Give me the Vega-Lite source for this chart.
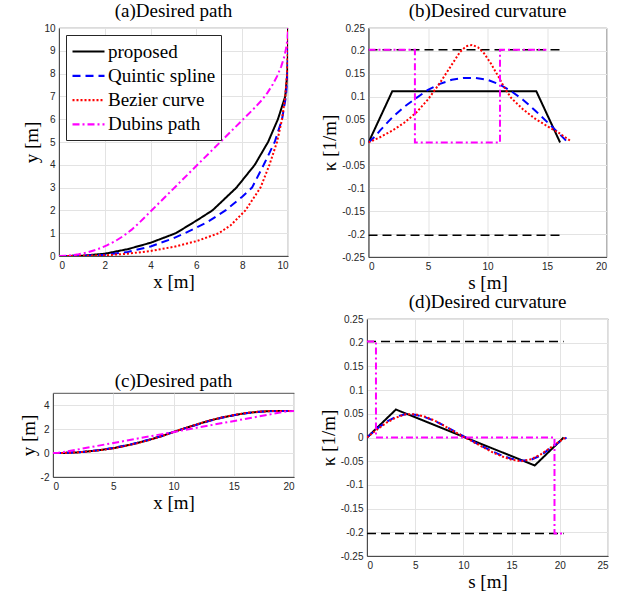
{
  "$schema": "https://vega.github.io/schema/vega-lite/v6.json",
  "background": "white",
  "padding": {"left": 18, "top": 1, "right": 5, "bottom": 0},
  "bounds": "full",
  "spacing": 23,
  "resolve": {"scale": {"color": "independent", "strokeDash": "independent", "x": "independent", "y": "independent"}, "legend": {"color": "independent", "strokeDash": "independent"}},
  "datasets": {
    "a": [
      {"m": "proposed", "x": 0, "y": 0}, {"m": "proposed", "x": 1, "y": 0.01}, {"m": "proposed", "x": 2, "y": 0.1}, {"m": "proposed", "x": 3, "y": 0.3}, {"m": "proposed", "x": 4, "y": 0.58}, {"m": "proposed", "x": 5.1, "y": 1}, {"m": "proposed", "x": 6, "y": 1.55}, {"m": "proposed", "x": 6.7, "y": 2}, {"m": "proposed", "x": 7.75, "y": 3}, {"m": "proposed", "x": 8.55, "y": 4}, {"m": "proposed", "x": 9.13, "y": 5}, {"m": "proposed", "x": 9.56, "y": 6}, {"m": "proposed", "x": 9.88, "y": 7}, {"m": "proposed", "x": 9.97, "y": 8}, {"m": "proposed", "x": 10, "y": 9}, {"m": "proposed", "x": 10, "y": 10},
      {"m": "Quintic spline", "x": 0, "y": 0}, {"m": "Quintic spline", "x": 1, "y": 0.01}, {"m": "Quintic spline", "x": 2, "y": 0.05}, {"m": "Quintic spline", "x": 3, "y": 0.18}, {"m": "Quintic spline", "x": 4, "y": 0.42}, {"m": "Quintic spline", "x": 5, "y": 0.78}, {"m": "Quintic spline", "x": 5.5, "y": 1}, {"m": "Quintic spline", "x": 6.5, "y": 1.5}, {"m": "Quintic spline", "x": 7.27, "y": 2}, {"m": "Quintic spline", "x": 8, "y": 2.6}, {"m": "Quintic spline", "x": 8.43, "y": 3}, {"m": "Quintic spline", "x": 8.94, "y": 4}, {"m": "Quintic spline", "x": 9.42, "y": 5}, {"m": "Quintic spline", "x": 9.74, "y": 6}, {"m": "Quintic spline", "x": 9.91, "y": 7}, {"m": "Quintic spline", "x": 9.98, "y": 8}, {"m": "Quintic spline", "x": 10, "y": 9}, {"m": "Quintic spline", "x": 10, "y": 10},
      {"m": "Bezier curve", "x": 0, "y": 0}, {"m": "Bezier curve", "x": 1, "y": 0.005}, {"m": "Bezier curve", "x": 2, "y": 0.03}, {"m": "Bezier curve", "x": 3, "y": 0.1}, {"m": "Bezier curve", "x": 4, "y": 0.22}, {"m": "Bezier curve", "x": 5, "y": 0.4}, {"m": "Bezier curve", "x": 6, "y": 0.65}, {"m": "Bezier curve", "x": 6.98, "y": 1}, {"m": "Bezier curve", "x": 7.5, "y": 1.35}, {"m": "Bezier curve", "x": 8.14, "y": 2}, {"m": "Bezier curve", "x": 8.8, "y": 3}, {"m": "Bezier curve", "x": 9.19, "y": 4}, {"m": "Bezier curve", "x": 9.52, "y": 5}, {"m": "Bezier curve", "x": 9.74, "y": 6}, {"m": "Bezier curve", "x": 9.88, "y": 7}, {"m": "Bezier curve", "x": 9.96, "y": 8}, {"m": "Bezier curve", "x": 9.99, "y": 9}, {"m": "Bezier curve", "x": 10, "y": 10},
      {"m": "Dubins path", "x": 0, "y": 0}, {"m": "Dubins path", "x": 0.431, "y": 0.019}, {"m": "Dubins path", "x": 0.858, "y": 0.075}, {"m": "Dubins path", "x": 1.279, "y": 0.168}, {"m": "Dubins path", "x": 1.69, "y": 0.298}, {"m": "Dubins path", "x": 2.088, "y": 0.463}, {"m": "Dubins path", "x": 2.47, "y": 0.662}, {"m": "Dubins path", "x": 2.834, "y": 0.893}, {"m": "Dubins path", "x": 3.175, "y": 1.156}, {"m": "Dubins path", "x": 3.493, "y": 1.447}, {"m": "Dubins path", "x": 8.553, "y": 6.507}, {"m": "Dubins path", "x": 8.844, "y": 6.825}, {"m": "Dubins path", "x": 9.107, "y": 7.166}, {"m": "Dubins path", "x": 9.338, "y": 7.53}, {"m": "Dubins path", "x": 9.537, "y": 7.912}, {"m": "Dubins path", "x": 9.702, "y": 8.31}, {"m": "Dubins path", "x": 9.832, "y": 8.721}, {"m": "Dubins path", "x": 9.925, "y": 9.142}, {"m": "Dubins path", "x": 9.981, "y": 9.569}, {"m": "Dubins path", "x": 10, "y": 10}
    ],
    "b": [
      {"m": "proposed", "s": 0, "k": 0}, {"m": "proposed", "s": 2.0, "k": 0.112}, {"m": "proposed", "s": 14.1, "k": 0.112}, {"m": "proposed", "s": 16.1, "k": 0},
      {"m": "Quintic spline", "s": 0, "k": 0}, {"m": "Quintic spline", "s": 0.5, "k": 0.012}, {"m": "Quintic spline", "s": 1, "k": 0.027}, {"m": "Quintic spline", "s": 2, "k": 0.055}, {"m": "Quintic spline", "s": 3, "k": 0.078}, {"m": "Quintic spline", "s": 4, "k": 0.097}, {"m": "Quintic spline", "s": 5, "k": 0.115}, {"m": "Quintic spline", "s": 6, "k": 0.128}, {"m": "Quintic spline", "s": 7, "k": 0.137}, {"m": "Quintic spline", "s": 8, "k": 0.141}, {"m": "Quintic spline", "s": 9, "k": 0.141}, {"m": "Quintic spline", "s": 10, "k": 0.137}, {"m": "Quintic spline", "s": 11, "k": 0.127}, {"m": "Quintic spline", "s": 12, "k": 0.112}, {"m": "Quintic spline", "s": 13, "k": 0.093}, {"m": "Quintic spline", "s": 14, "k": 0.07}, {"m": "Quintic spline", "s": 15, "k": 0.045}, {"m": "Quintic spline", "s": 16, "k": 0.02}, {"m": "Quintic spline", "s": 16.6, "k": 0.004},
      {"m": "Bezier curve", "s": 0, "k": 0}, {"m": "Bezier curve", "s": 1, "k": 0.012}, {"m": "Bezier curve", "s": 2, "k": 0.026}, {"m": "Bezier curve", "s": 3, "k": 0.043}, {"m": "Bezier curve", "s": 4, "k": 0.065}, {"m": "Bezier curve", "s": 5, "k": 0.094}, {"m": "Bezier curve", "s": 6, "k": 0.13}, {"m": "Bezier curve", "s": 7, "k": 0.17}, {"m": "Bezier curve", "s": 7.7, "k": 0.198}, {"m": "Bezier curve", "s": 8.2, "k": 0.21}, {"m": "Bezier curve", "s": 8.7, "k": 0.213}, {"m": "Bezier curve", "s": 9.2, "k": 0.208}, {"m": "Bezier curve", "s": 9.7, "k": 0.195}, {"m": "Bezier curve", "s": 10.3, "k": 0.172}, {"m": "Bezier curve", "s": 11, "k": 0.14}, {"m": "Bezier curve", "s": 11.5, "k": 0.116}, {"m": "Bezier curve", "s": 12, "k": 0.097}, {"m": "Bezier curve", "s": 13, "k": 0.072}, {"m": "Bezier curve", "s": 14, "k": 0.052}, {"m": "Bezier curve", "s": 15, "k": 0.036}, {"m": "Bezier curve", "s": 16, "k": 0.021}, {"m": "Bezier curve", "s": 17, "k": 0.003},
      {"m": "Dubins path", "s": 0, "k": 0.2025}, {"m": "Dubins path", "s": 3.9, "k": 0.2025}, {"m": "Dubins path", "s": 3.9, "k": 0}, {"m": "Dubins path", "s": 11.05, "k": 0}, {"m": "Dubins path", "s": 11.05, "k": 0.2025}, {"m": "Dubins path", "s": 14.95, "k": 0.2025}
    ],
    "bl": [
      {"g": "upper", "s": 0, "k": 0.2025}, {"g": "upper", "s": 16.2, "k": 0.2025},
      {"g": "lower", "s": 0, "k": -0.2025}, {"g": "lower", "s": 16.2, "k": -0.2025}
    ],
    "c": [
      {"m": "proposed", "x": 0, "y": 0}, {"m": "proposed", "x": 1, "y": 0.01}, {"m": "proposed", "x": 2, "y": 0.05}, {"m": "proposed", "x": 3, "y": 0.14}, {"m": "proposed", "x": 4, "y": 0.26}, {"m": "proposed", "x": 5, "y": 0.4}, {"m": "proposed", "x": 6, "y": 0.6}, {"m": "proposed", "x": 7, "y": 0.83}, {"m": "proposed", "x": 8, "y": 1.1}, {"m": "proposed", "x": 9, "y": 1.4}, {"m": "proposed", "x": 10, "y": 1.75}, {"m": "proposed", "x": 11, "y": 2.08}, {"m": "proposed", "x": 12, "y": 2.4}, {"m": "proposed", "x": 13, "y": 2.7}, {"m": "proposed", "x": 14, "y": 2.95}, {"m": "proposed", "x": 15, "y": 3.15}, {"m": "proposed", "x": 16, "y": 3.32}, {"m": "proposed", "x": 17, "y": 3.43}, {"m": "proposed", "x": 18, "y": 3.49}, {"m": "proposed", "x": 19, "y": 3.5}, {"m": "proposed", "x": 20, "y": 3.5},
      {"m": "Quintic spline", "x": 0, "y": 0}, {"m": "Quintic spline", "x": 1, "y": 0.012}, {"m": "Quintic spline", "x": 2, "y": 0.055}, {"m": "Quintic spline", "x": 3, "y": 0.15}, {"m": "Quintic spline", "x": 4, "y": 0.27}, {"m": "Quintic spline", "x": 5, "y": 0.42}, {"m": "Quintic spline", "x": 6, "y": 0.62}, {"m": "Quintic spline", "x": 7, "y": 0.85}, {"m": "Quintic spline", "x": 8, "y": 1.12}, {"m": "Quintic spline", "x": 9, "y": 1.42}, {"m": "Quintic spline", "x": 10, "y": 1.75}, {"m": "Quintic spline", "x": 11, "y": 2.07}, {"m": "Quintic spline", "x": 12, "y": 2.38}, {"m": "Quintic spline", "x": 13, "y": 2.68}, {"m": "Quintic spline", "x": 14, "y": 2.93}, {"m": "Quintic spline", "x": 15, "y": 3.14}, {"m": "Quintic spline", "x": 16, "y": 3.31}, {"m": "Quintic spline", "x": 17, "y": 3.42}, {"m": "Quintic spline", "x": 18, "y": 3.48}, {"m": "Quintic spline", "x": 19, "y": 3.5}, {"m": "Quintic spline", "x": 20, "y": 3.5},
      {"m": "Bezier curve", "x": 0, "y": 0}, {"m": "Bezier curve", "x": 1, "y": 0.008}, {"m": "Bezier curve", "x": 2, "y": 0.048}, {"m": "Bezier curve", "x": 3, "y": 0.13}, {"m": "Bezier curve", "x": 4, "y": 0.25}, {"m": "Bezier curve", "x": 5, "y": 0.39}, {"m": "Bezier curve", "x": 6, "y": 0.59}, {"m": "Bezier curve", "x": 7, "y": 0.82}, {"m": "Bezier curve", "x": 8, "y": 1.09}, {"m": "Bezier curve", "x": 9, "y": 1.4}, {"m": "Bezier curve", "x": 10, "y": 1.75}, {"m": "Bezier curve", "x": 11, "y": 2.09}, {"m": "Bezier curve", "x": 12, "y": 2.41}, {"m": "Bezier curve", "x": 13, "y": 2.71}, {"m": "Bezier curve", "x": 14, "y": 2.96}, {"m": "Bezier curve", "x": 15, "y": 3.16}, {"m": "Bezier curve", "x": 16, "y": 3.33}, {"m": "Bezier curve", "x": 17, "y": 3.44}, {"m": "Bezier curve", "x": 18, "y": 3.49}, {"m": "Bezier curve", "x": 19, "y": 3.5}, {"m": "Bezier curve", "x": 20, "y": 3.5},
      {"m": "Dubins path", "x": 0, "y": 0}, {"m": "Dubins path", "x": 0.448, "y": 0.02}, {"m": "Dubins path", "x": 0.892, "y": 0.081}, {"m": "Dubins path", "x": 19.108, "y": 3.419}, {"m": "Dubins path", "x": 19.552, "y": 3.48}, {"m": "Dubins path", "x": 20, "y": 3.5}
    ],
    "d": [
      {"m": "proposed", "s": 0, "k": 0}, {"m": "proposed", "s": 3.0, "k": 0.059}, {"m": "proposed", "s": 17.4, "k": -0.059}, {"m": "proposed", "s": 20.4, "k": 0},
      {"m": "Quintic spline", "s": 0, "k": 0}, {"m": "Quintic spline", "s": 0.5, "k": 0.009}, {"m": "Quintic spline", "s": 1, "k": 0.018}, {"m": "Quintic spline", "s": 2, "k": 0.033}, {"m": "Quintic spline", "s": 3, "k": 0.044}, {"m": "Quintic spline", "s": 4, "k": 0.049}, {"m": "Quintic spline", "s": 5, "k": 0.048}, {"m": "Quintic spline", "s": 6, "k": 0.043}, {"m": "Quintic spline", "s": 7, "k": 0.035}, {"m": "Quintic spline", "s": 8, "k": 0.025}, {"m": "Quintic spline", "s": 9, "k": 0.014}, {"m": "Quintic spline", "s": 10, "k": 0.003}, {"m": "Quintic spline", "s": 11, "k": -0.008}, {"m": "Quintic spline", "s": 12, "k": -0.019}, {"m": "Quintic spline", "s": 13, "k": -0.029}, {"m": "Quintic spline", "s": 14, "k": -0.038}, {"m": "Quintic spline", "s": 15, "k": -0.045}, {"m": "Quintic spline", "s": 16, "k": -0.049}, {"m": "Quintic spline", "s": 17, "k": -0.047}, {"m": "Quintic spline", "s": 18, "k": -0.038}, {"m": "Quintic spline", "s": 19, "k": -0.023}, {"m": "Quintic spline", "s": 20, "k": -0.009}, {"m": "Quintic spline", "s": 20.7, "k": 0},
      {"m": "Bezier curve", "s": 0, "k": 0}, {"m": "Bezier curve", "s": 0.5, "k": 0.008}, {"m": "Bezier curve", "s": 1, "k": 0.016}, {"m": "Bezier curve", "s": 2, "k": 0.031}, {"m": "Bezier curve", "s": 3, "k": 0.042}, {"m": "Bezier curve", "s": 4, "k": 0.049}, {"m": "Bezier curve", "s": 5, "k": 0.049}, {"m": "Bezier curve", "s": 6, "k": 0.044}, {"m": "Bezier curve", "s": 7, "k": 0.036}, {"m": "Bezier curve", "s": 8, "k": 0.025}, {"m": "Bezier curve", "s": 9, "k": 0.013}, {"m": "Bezier curve", "s": 10, "k": 0.002}, {"m": "Bezier curve", "s": 11, "k": -0.009}, {"m": "Bezier curve", "s": 12, "k": -0.02}, {"m": "Bezier curve", "s": 13, "k": -0.031}, {"m": "Bezier curve", "s": 14, "k": -0.04}, {"m": "Bezier curve", "s": 15, "k": -0.047}, {"m": "Bezier curve", "s": 16, "k": -0.05}, {"m": "Bezier curve", "s": 17, "k": -0.046}, {"m": "Bezier curve", "s": 18, "k": -0.036}, {"m": "Bezier curve", "s": 19, "k": -0.022}, {"m": "Bezier curve", "s": 20, "k": -0.008}, {"m": "Bezier curve", "s": 20.6, "k": 0},
      {"m": "Dubins path", "s": 0, "k": 0.2025}, {"m": "Dubins path", "s": 0.93, "k": 0.2025}, {"m": "Dubins path", "s": 0.93, "k": 0}, {"m": "Dubins path", "s": 19.45, "k": 0}, {"m": "Dubins path", "s": 19.45, "k": -0.2025}, {"m": "Dubins path", "s": 20.4, "k": -0.2025}
    ],
    "dl": [
      {"g": "upper", "s": 0, "k": 0.2025}, {"g": "upper", "s": 20.4, "k": 0.2025},
      {"g": "lower", "s": 0, "k": -0.2025}, {"g": "lower", "s": 20.4, "k": -0.2025}
    ]
  },
  "hconcat": [
    {
      "bounds": "flush",
      "center": true,
      "spacing": 137,
      "resolve": {"scale": {"color": "independent", "strokeDash": "independent", "x": "independent", "y": "independent"}, "legend": {"color": "independent", "strokeDash": "independent"}},
      "vconcat": [
        {
          "title": "(a)Desired path",
          "width": 229, "height": 228,
          "data": {"name": "a"},
          "mark": {"type": "line", "strokeWidth": 2, "clip": true},
          "encoding": {
            "x": {"field": "x", "type": "quantitative", "scale": {"domain": [0, 10], "nice": false}, "axis": {"values": [0, 2, 4, 6, 8, 10], "title": "x [m]"}},
            "y": {"field": "y", "type": "quantitative", "scale": {"domain": [0, 10], "nice": false}, "axis": {"values": [0, 1, 2, 3, 4, 5, 6, 7, 8, 9, 10], "title": "y [m]"}},
            "color": {"field": "m", "type": "nominal", "scale": {"domain": ["proposed", "Quintic spline", "Bezier curve", "Dubins path"], "range": ["#000000", "#0000ff", "#ff0000", "#ff00ff"]}, "legend": {"title": null, "orient": "top-left", "offset": 7}},
            "strokeDash": {"field": "m", "type": "nominal", "scale": {"domain": ["proposed", "Quintic spline", "Bezier curve", "Dubins path"], "range": [[1, 0], [8, 5], [2, 2], [7, 3, 2, 3]]}, "legend": {"title": null, "orient": "top-left", "offset": 7}},
            "order": {"value": null}
          }
        },
        {
          "title": "(c)Desired path",
          "width": 241, "height": 84,
          "data": {"name": "c"},
          "mark": {"type": "line", "strokeWidth": 2, "clip": true},
          "encoding": {
            "x": {"field": "x", "type": "quantitative", "scale": {"domain": [0, 20], "nice": false}, "axis": {"values": [0, 5, 10, 15, 20], "title": "x [m]"}},
            "y": {"field": "y", "type": "quantitative", "scale": {"domain": [-2, 5], "nice": false}, "axis": {"values": [-2, 0, 2, 4], "labelExpr": "replace(format(datum.value, '~g'), '\u2212', '-')", "title": "y [m]"}},
            "color": {"field": "m", "type": "nominal", "scale": {"domain": ["proposed", "Quintic spline", "Bezier curve", "Dubins path"], "range": ["#000000", "#0000ff", "#ff0000", "#ff00ff"]}, "legend": null},
            "strokeDash": {"field": "m", "type": "nominal", "scale": {"domain": ["proposed", "Quintic spline", "Bezier curve", "Dubins path"], "range": [[1, 0], [8, 5], [2, 2], [7, 3, 2, 3]]}, "legend": null},
            "order": {"value": null}
          }
        }
      ]
    },
    {
      "bounds": "flush",
      "center": true,
      "spacing": 62,
      "resolve": {"scale": {"color": "independent", "strokeDash": "independent", "x": "independent", "y": "independent"}, "legend": {"color": "independent", "strokeDash": "independent"}},
      "vconcat": [
        {
          "title": "(b)Desired curvature",
          "width": 238, "height": 229,
          "layer": [
            {
              "data": {"name": "bl"},
              "mark": {"type": "line", "strokeWidth": 1.6, "color": "#000000", "strokeDash": [9, 5], "clip": true},
              "encoding": {
                "x": {"field": "s", "type": "quantitative"},
                "y": {"field": "k", "type": "quantitative"},
                "detail": {"field": "g", "type": "nominal"}
              }
            },
            {
              "data": {"name": "b"},
              "mark": {"type": "line", "strokeWidth": 2, "clip": true},
              "encoding": {
                "x": {"field": "s", "type": "quantitative"},
                "y": {"field": "k", "type": "quantitative"},
                "color": {"field": "m", "type": "nominal", "scale": {"domain": ["proposed", "Quintic spline", "Bezier curve", "Dubins path"], "range": ["#000000", "#0000ff", "#ff0000", "#ff00ff"]}, "legend": null},
                "strokeDash": {"field": "m", "type": "nominal", "scale": {"domain": ["proposed", "Quintic spline", "Bezier curve", "Dubins path"], "range": [[1, 0], [8, 5], [2, 2], [7, 3, 2, 3]]}, "legend": null},
                "order": {"value": null}
              }
            }
          ],
          "encoding": {
            "x": {"field": "s", "type": "quantitative", "scale": {"domain": [0, 20], "nice": false}, "axis": {"values": [0, 5, 10, 15, 20], "title": "s [m]"}},
            "y": {"field": "k", "type": "quantitative", "scale": {"domain": [-0.25, 0.25], "nice": false}, "axis": {"values": [-0.25, -0.2, -0.15, -0.1, -0.05, 0, 0.05, 0.1, 0.15, 0.2, 0.25], "labelExpr": "replace(format(datum.value, '~g'), '\u2212', '-')", "title": "\u03ba [1/m]"}}
          }
        },
        {
          "title": "(d)Desired curvature",
          "width": 241, "height": 237,
          "layer": [
            {
              "data": {"name": "dl"},
              "mark": {"type": "line", "strokeWidth": 1.6, "color": "#000000", "strokeDash": [9, 5], "clip": true},
              "encoding": {
                "x": {"field": "s", "type": "quantitative"},
                "y": {"field": "k", "type": "quantitative"},
                "detail": {"field": "g", "type": "nominal"}
              }
            },
            {
              "data": {"name": "d"},
              "mark": {"type": "line", "strokeWidth": 2, "clip": true},
              "encoding": {
                "x": {"field": "s", "type": "quantitative"},
                "y": {"field": "k", "type": "quantitative"},
                "color": {"field": "m", "type": "nominal", "scale": {"domain": ["proposed", "Quintic spline", "Bezier curve", "Dubins path"], "range": ["#000000", "#0000ff", "#ff0000", "#ff00ff"]}, "legend": null},
                "strokeDash": {"field": "m", "type": "nominal", "scale": {"domain": ["proposed", "Quintic spline", "Bezier curve", "Dubins path"], "range": [[1, 0], [8, 5], [2, 2], [7, 3, 2, 3]]}, "legend": null},
                "order": {"value": null}
              }
            }
          ],
          "encoding": {
            "x": {"field": "s", "type": "quantitative", "scale": {"domain": [0, 25], "nice": false}, "axis": {"values": [0, 5, 10, 15, 20, 25], "title": "s [m]"}},
            "y": {"field": "k", "type": "quantitative", "scale": {"domain": [-0.25, 0.25], "nice": false}, "axis": {"values": [-0.25, -0.2, -0.15, -0.1, -0.05, 0, 0.05, 0.1, 0.15, 0.2, 0.25], "labelExpr": "replace(format(datum.value, '~g'), '\u2212', '-')", "title": "\u03ba [1/m]"}}
          }
        }
      ]
    }
  ],
  "config": {
    "view": {"stroke": "#262626", "strokeWidth": 0.8},
    "axis": {"labelFont": "Liberation Sans", "labelFontSize": 10, "labelColor": "#262626", "titleFont": "Liberation Serif", "titleFontSize": 19, "titleFontWeight": "normal", "titleColor": "#000000", "gridColor": "#e3e3e3", "domainColor": "#262626", "domainWidth": 0.8, "ticks": false, "labelPadding": 4, "titlePadding": 2},
    "title": {"font": "Liberation Serif", "fontSize": 19, "fontWeight": "normal", "color": "#000000", "offset": 2},
    "legend": {"strokeColor": "#262626", "fillColor": "#ffffff", "padding": 5, "labelFont": "Liberation Serif", "labelFontSize": 19, "labelColor": "#000000", "symbolType": "M-1.6,0L1.6,0", "symbolSize": 400, "symbolOffset": 6, "symbolStrokeWidth": 2.2, "rowPadding": 2.3, "labelOffset": 8, "cornerRadius": 0}
  }
}
